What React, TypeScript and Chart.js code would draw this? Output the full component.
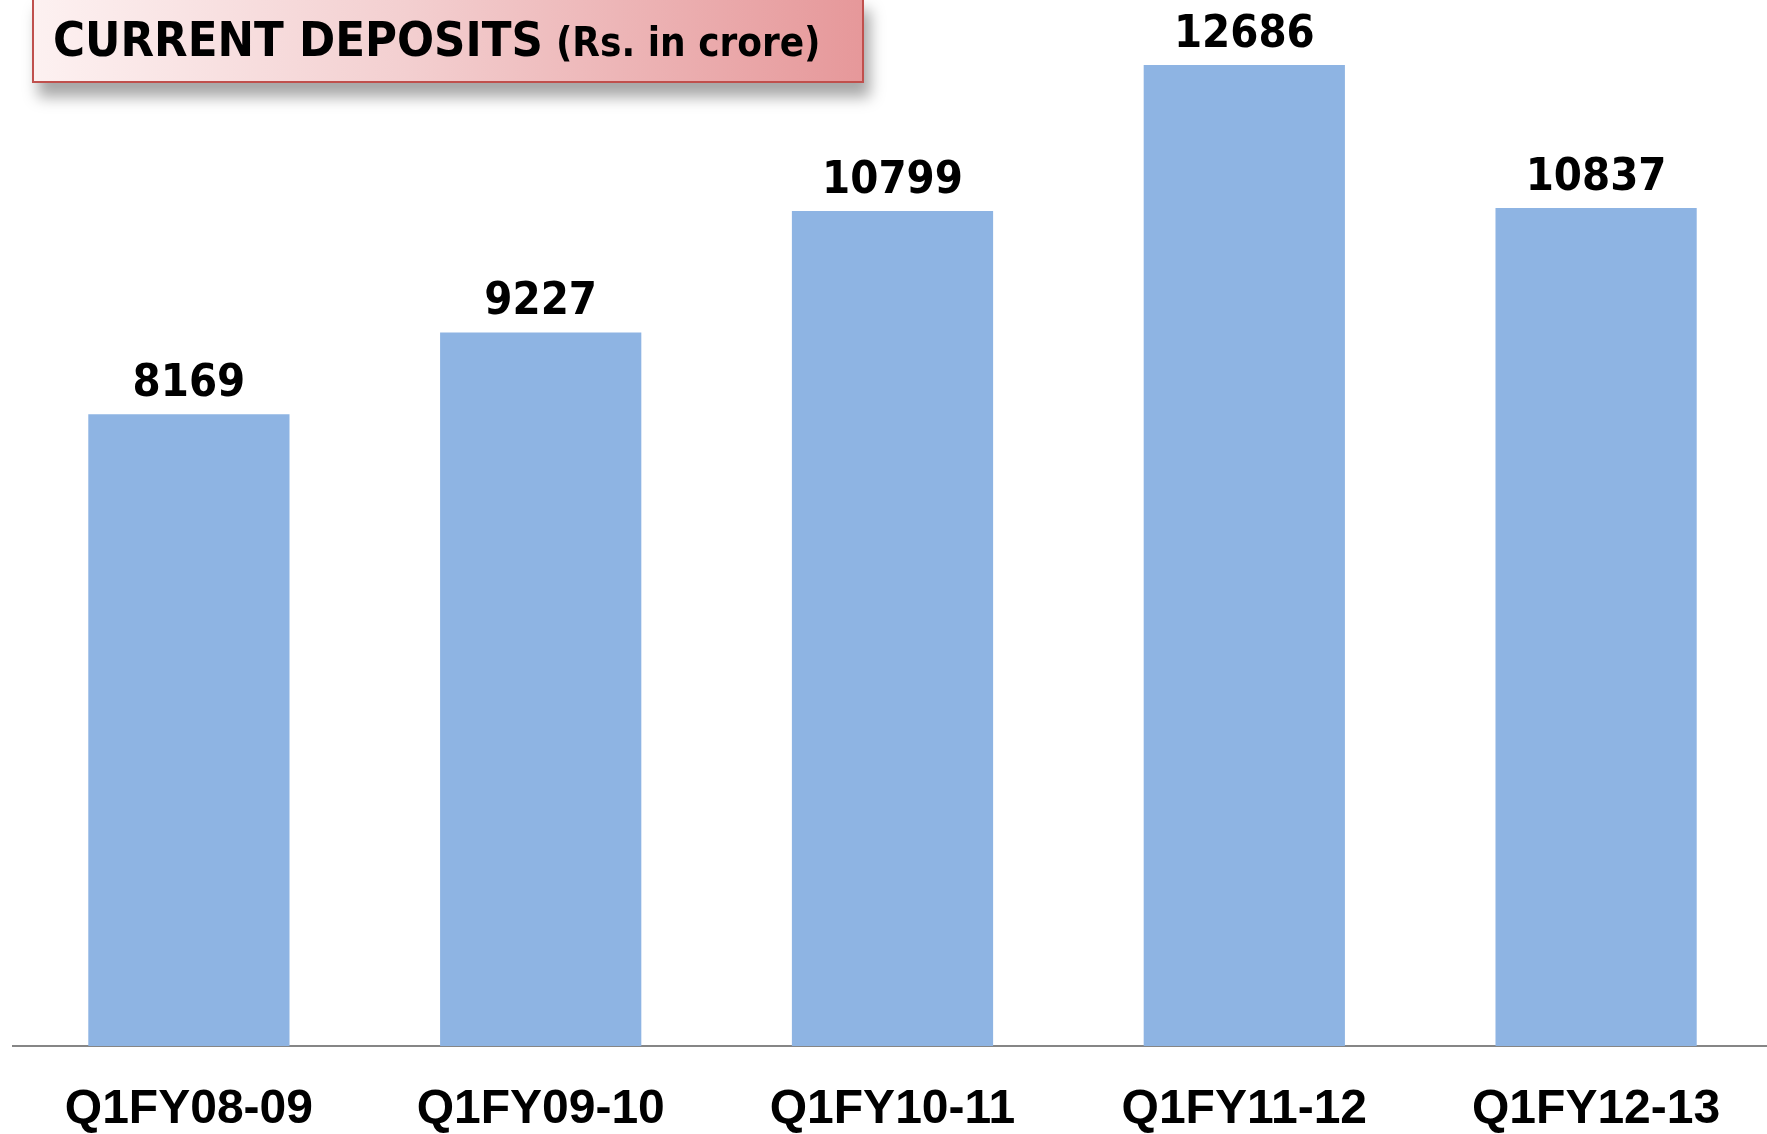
import React, { useEffect, useRef } from "react";
import { Chart, registerables } from "chart.js";

Chart.register(...registerables);

const categories = ["Q1FY08-09", "Q1FY09-10", "Q1FY10-11", "Q1FY11-12", "Q1FY12-13"];
const deposits = [8169, 9227, 10799, 12686, 10837];
const titleMain = "CURRENT DEPOSITS";
const titleSub = "(Rs. in crore)";

const LABEL_FONT = "bold 45px 'DejaVu Sans Condensed', 'DejaVu Sans', sans-serif";

const valueLabels = {
  id: "valueLabels",
  afterDatasetsDraw(chart: any) {
    const ctx = chart.ctx;
    const meta = chart.getDatasetMeta(0);
    const data = chart.data.datasets[0].data as number[];
    ctx.save();
    ctx.font = LABEL_FONT;
    ctx.fillStyle = "#000000";
    ctx.textAlign = "center";
    ctx.textBaseline = "alphabetic";
    meta.data.forEach((bar: any, i: number) => {
      ctx.fillText(String(data[i]), bar.x, bar.y - 18);
    });
    ctx.restore();
  },
};

export default function App() {
  const canvasRef = useRef<HTMLCanvasElement | null>(null);

  useEffect(() => {
    document.body.style.margin = "0";
    const canvas = canvasRef.current;
    if (!canvas) return;
    const chart = new Chart(canvas, {
      type: "bar",
      data: {
        labels: categories,
        datasets: [
          {
            data: deposits,
            backgroundColor: "#8EB4E3",
            borderWidth: 0,
            categoryPercentage: 1,
            barPercentage: 0.572,
          },
        ],
      },
      options: {
        animation: false,
        responsive: false,
        maintainAspectRatio: false,
        layout: { padding: { top: 2, left: 13, right: 0, bottom: 0 } },
        plugins: {
          legend: { display: false },
          tooltip: { enabled: false },
          title: { display: false },
        },
        scales: {
          x: {
            grid: { display: false, drawTicks: false },
            border: { display: true, color: "#868686", width: 2 },
            afterFit: (scale: any) => {
              scale.height = 88;
            },
            ticks: {
              color: "#000000",
              padding: 40,
              font: { family: "'Liberation Sans', Arial, sans-serif", size: 48, weight: "bold", lineHeight: 1 },
            },
          },
          y: {
            display: false,
            min: 0,
            max: 13500,
          },
        },
      },
      plugins: [valueLabels],
    });
    return () => chart.destroy();
  }, []);

  return (
    <div style={{ position: "relative", width: 1767, height: 1134, background: "#ffffff", overflow: "hidden" }}>
      <canvas ref={canvasRef} width={1772} height={1134} style={{ display: "block" }} />
      <div
        style={{
          position: "absolute",
          left: 32,
          top: -4,
          width: 832,
          height: 87,
          boxSizing: "border-box",
          border: "2px solid #C0504D",
          background: "linear-gradient(to right, #FDF1F1 0%, #F3CFD0 45%, #E6989A 100%)",
          boxShadow: "6px 14px 14px rgba(0,0,0,0.35)",
          fontFamily: "'DejaVu Sans Condensed', 'DejaVu Sans', sans-serif",
          fontWeight: "bold",
          color: "#000000",
          whiteSpace: "nowrap",
        }}
      >
        <span style={{ position: "absolute", left: 19, top: 11, fontSize: 48.5, lineHeight: "60px" }}>
          {titleMain}
          <span style={{ fontSize: 40, marginLeft: 13 }}>{titleSub}</span>
        </span>
      </div>
    </div>
  );
}
